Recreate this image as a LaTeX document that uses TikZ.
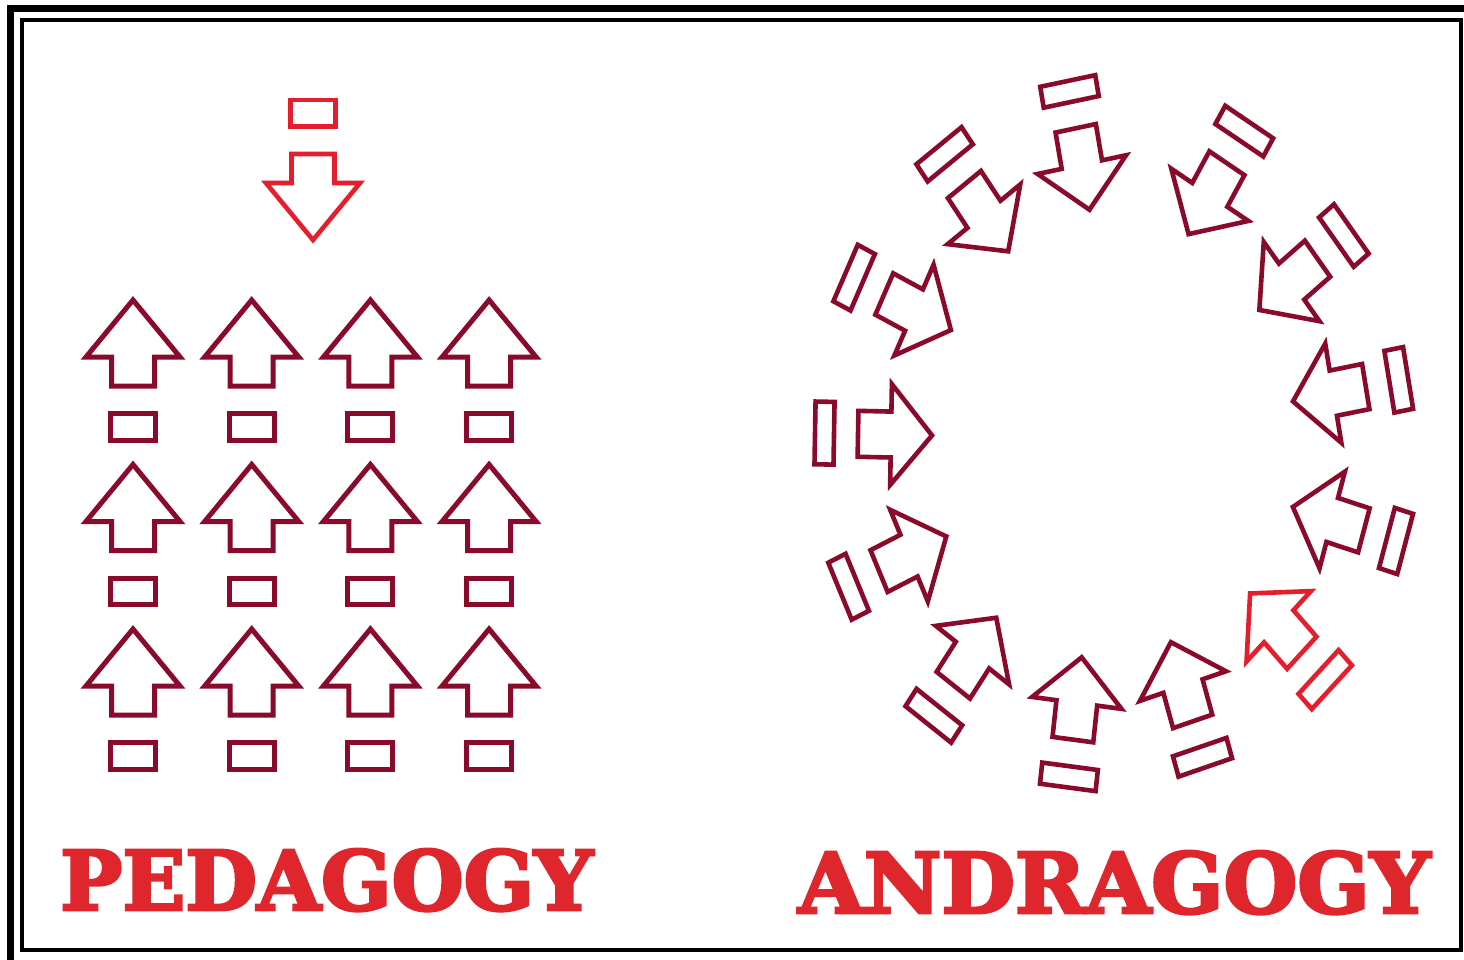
\documentclass[tikz,border=0pt]{standalone}
\usepackage{fontspec}
\usepackage{graphicx}
\newfontfamily\titlefont{DejaVu Serif}[UprightFont={* Bold}, FakeBold=3.5]
\definecolor{arrowmaroon}{RGB}{138,10,44}
\definecolor{arrowred}{RGB}{228,30,44}
\definecolor{titlered}{RGB}{222,38,44}
\tikzset{
  pedarrow/.pic={
    \draw[pic actions] (0,3) -- (-47,60) -- (-21.5,60) -- (-21.5,89) -- (21.5,89) -- (21.5,60) -- (47,60) -- cycle;
    \draw[pic actions] (-22.5,116.5) rectangle (22.5,143);
  },
  andarrow/.pic={
    \draw[pic actions] (-3,0) -- (-44,-45) -- (-44,-20.5) -- (-77,-20.5) -- (-77,20.5) -- (-44,20.5) -- (-44,45) -- cycle;
    \draw[pic actions] (-120,-28) rectangle (-101,28);
  },
  pedline/.style={draw=arrowmaroon, line width=5pt, line join=miter, miter limit=10},
  andline/.style={draw=arrowmaroon, line width=4.6pt, line join=miter, miter limit=10},
  redline/.style={draw=arrowred, line width=4.6pt, line join=miter, miter limit=10},
  frameouter/.style={draw=black, line width=7pt},
  frameinner/.style={draw=black, line width=3.8pt},
  titlestyle/.style={anchor=base west, inner sep=0pt, text=titlered}
}
\begin{document}
\begin{tikzpicture}[x=1pt,y=-1pt]
\useasboundingbox (0,0) rectangle (1464,959);
\clip (0,0) rectangle (1464,959);
\fill[white] (0,0) rectangle (1464,959);
% frame
\draw[frameouter] (10.5,8.5) rectangle (1490,985);
\draw[frameinner] (21.8,20) rectangle (1460.8,950);
% pedagogy
\pic[redline, rotate=180] at (313,243) {pedarrow};
\foreach \c in {0,1,2,3} {
  \foreach \r in {0,1,2} {
    \pic[pedline] at ({133+118.7*\c},{297+164.5*\r}) {pedarrow};
  }
}
% andragogy ring
\begin{scope}[shift={(1112,433)}, yscale=1.12, transform shape]
  \pic[andline, rotate=-79.3]  at (-22,-196.4) {andarrow};
  \pic[andline, rotate=-121.2] at (75,-175) {andarrow};
  \pic[andline, rotate=-141.8] at (145,-108) {andarrow};
  \pic[andline, rotate=-169.7] at (178,-27.7) {andarrow};
  \pic[andline, rotate=-196.4] at (178,65.2) {andarrow};
  \pic[redline, rotate=-225.7] at (136,141.1) {andarrow};
  \pic[andline, rotate=-252.9] at (58,183.9) {andarrow};
  \pic[andline, rotate=-276.8] at (-30,197.3) {andarrow};
  \pic[andline, rotate=-305.5] at (-114,162.5) {andarrow};
  \pic[andline, rotate=-335.3] at (-163,91.1) {andarrow};
  \pic[andline, rotate=-1.1]   at (-177,2.2) {andarrow};
  \pic[andline, rotate=-25.8]  at (-158.4,-90.6) {andarrow};
  \pic[andline, rotate=-53.7]  at (-102,-159.8) {andarrow};
\end{scope}
% titles
\node[titlestyle] (ped) at (60,910) {\resizebox{533pt}{61pt}{\titlefont PEDAGOGY}};
\node[titlestyle] (andr) at (798,913) {\resizebox{632pt}{62pt}{\titlefont ANDRAGOGY}};
\end{tikzpicture}
\end{document}
